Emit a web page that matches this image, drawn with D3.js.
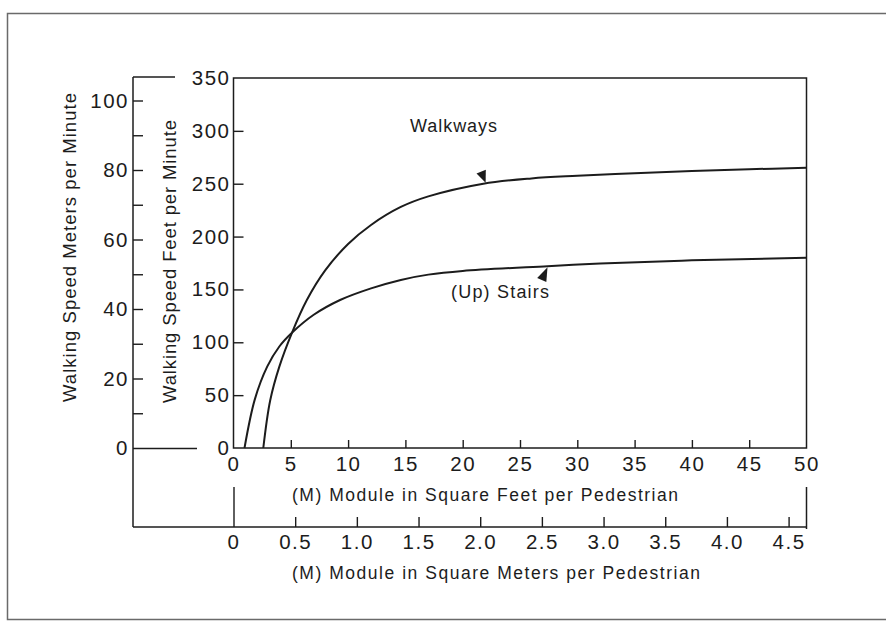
<!DOCTYPE html>
<html>
<head>
<meta charset="utf-8">
<script src="https://cdn.jsdelivr.net/npm/d3@7/dist/d3.min.js"></script>
<style>
  html, body { margin: 0; padding: 0; background: #fff; }
  svg { display: block; }
  text { font-family: "Liberation Sans", Arial, Helvetica, sans-serif; fill: #1c1c1c; }
</style>
</head>
<body>
<svg id="chart" width="886" height="621"></svg>
<script>
// ---------- data ----------
const walkwaysM = [2.6, 3.2, 4.0, 5.1, 6.4, 8, 10, 12, 14.6, 17, 21.8, 26, 30, 35, 40, 45, 50];
const walkwaysS = [0, 45, 77, 109, 140, 168, 193, 211, 228, 238, 250, 255, 257.5, 260, 262, 263.7, 265];
const stairsM = [0.96, 1.86, 2.94, 4.0, 5.1, 7, 9.3, 12, 14.6, 17, 20, 27.4, 32, 40, 50];
const stairsS = [0, 46, 77, 96, 109, 126, 140, 151, 159, 164, 167.5, 172, 174.5, 177.5, 180];

const ftXTicks = [0, 5, 10, 15, 20, 25, 30, 35, 40, 45, 50];
const mXTicks = [0, 0.5, 1.0, 1.5, 2.0, 2.5, 3.0, 3.5, 4.0, 4.5];
const mXLabels = ["0", "0.5", "1.0", "1.5", "2.0", "2.5", "3.0", "3.5", "4.0", "4.5"];
const ftYTicks = [0, 50, 100, 150, 200, 250, 300, 350];
const mYTicks = [0, 10, 20, 30, 40, 50, 60, 70, 80, 90, 100];
const mYLabeled = [0, 20, 40, 60, 80, 100];

const seriesNames = ["Walkways", "(Up) Stairs"];
const walkArrow = [22.0, 250];   // [module, speed] where the arrow touches
const stairArrow = [27.4, 172];

const SQFT_PER_SQM = 10.7639;

// ---------- setup ----------
const svg = d3.select("#chart");
const ink = "#1c1c1c";

const xFt = d3.scaleLinear().domain([0, 50]).range([233.5, 806.5]);
const xM = d3.scaleLinear().domain([0, 50 / SQFT_PER_SQM]).range([233.5, 806.5]);
const yFt = d3.scaleLinear().domain([0, 350]).range([448, 78]);
const yM = d3.scaleLinear().domain([0, 100]).range([448, 100.5]);

const mAxisX = 133;
const mAxisBottomY = 527;

// outer border (scan frame)
svg.append("path")
  .attr("d", "M886,13.5 L7.5,13.5 L7.5,619.5 L886,619.5")
  .attr("fill", "none").attr("stroke", "#6a6a6a").attr("stroke-width", 1.5);

// plot frame
svg.append("rect")
  .attr("x", xFt(0)).attr("y", yFt(350))
  .attr("width", xFt(50) - xFt(0)).attr("height", yFt(0) - yFt(350))
  .attr("fill", "none").attr("stroke", ink).attr("stroke-width", 1.5);

function styleAxis(g) {
  g.select(".domain").remove();
  g.selectAll(".tick line").attr("stroke", ink).attr("stroke-width", 1.4);
  g.selectAll(".tick text")
    .attr("fill", ink)
    .style("font-family", "'Liberation Sans', Arial, sans-serif")
    .style("font-size", "20.5px")
    .style("letter-spacing", "1.5px");
}

// ---- left feet axis ----
const gFtY = svg.append("g")
  .attr("transform", `translate(${xFt(0)},0)`)
  .call(d3.axisLeft(yFt).tickValues(ftYTicks).tickSize(-10).tickPadding(3).tickFormat(d3.format("d")));
styleAxis(gFtY);
gFtY.selectAll(".tick").filter(d => d === 0 || d === 350).select("line").remove();

// ---- left meters axis ----
const gMY = svg.append("g")
  .attr("transform", `translate(${mAxisX},0)`)
  .call(d3.axisLeft(yM).tickValues(mYTicks).tickSize(-10).tickPadding(4)
    .tickFormat(d => mYLabeled.includes(d) ? String(d) : ""));
styleAxis(gMY);
gMY.selectAll(".tick").filter(d => d === 0).select("line").attr("x2", 64);
// vertical spine of meters axis (continues down to the lower module axis)
svg.append("line")
  .attr("x1", mAxisX).attr("x2", mAxisX)
  .attr("y1", 77).attr("y2", mAxisBottomY)
  .attr("stroke", ink).attr("stroke-width", 1.5);
svg.append("line")
  .attr("x1", mAxisX).attr("x2", mAxisX + 42)
  .attr("y1", 77).attr("y2", 77)
  .attr("stroke", ink).attr("stroke-width", 1.5);

// ---- bottom feet axis ----
const gFtX = svg.append("g")
  .attr("transform", `translate(0,${yFt(0)})`)
  .call(d3.axisBottom(xFt).tickValues(ftXTicks).tickSize(-8).tickPadding(8).tickFormat(d3.format("d")));
styleAxis(gFtX);
gFtX.selectAll(".tick").filter(d => d === 0 || d === 50).select("line").remove();

// ---- bottom meters axis ----
const gMX = svg.append("g")
  .attr("transform", `translate(0,${mAxisBottomY})`)
  .call(d3.axisBottom(xM).tickValues(mXTicks).tickSize(-10).tickPadding(7)
    .tickFormat((d, i) => mXLabels[i]));
styleAxis(gMX);
gMX.selectAll(".tick").filter(d => d === 0).select("line").attr("y2", -40);
svg.append("line")
  .attr("x1", mAxisX).attr("x2", xFt(50))
  .attr("y1", mAxisBottomY).attr("y2", mAxisBottomY)
  .attr("stroke", ink).attr("stroke-width", 1.5);
svg.append("line")
  .attr("x1", xFt(50)).attr("x2", xFt(50))
  .attr("y1", mAxisBottomY - 40).attr("y2", mAxisBottomY + 2)
  .attr("stroke", ink).attr("stroke-width", 1.5);

// ---------- curves ----------
const line = d3.line()
  .x(d => xFt(d[0]))
  .y(d => yFt(d[1]))
  .curve(d3.curveCatmullRom.alpha(0.5));

const walkData = walkwaysM.map((m, i) => [m, walkwaysS[i]]);
const stairData = stairsM.map((m, i) => [m, stairsS[i]]);

svg.append("path").datum(walkData)
  .attr("d", line).attr("fill", "none").attr("stroke", ink).attr("stroke-width", 2);
svg.append("path").datum(stairData)
  .attr("d", line).attr("fill", "none").attr("stroke", ink).attr("stroke-width", 2);

// arrowheads pointing at curves
function arrowHead(tip, dir, len, half) {
  const n = Math.hypot(dir[0], dir[1]);
  const ux = dir[0] / n, uy = dir[1] / n;
  const bx = tip[0] - ux * len, by = tip[1] - uy * len;
  const px = -uy, py = ux;
  return `M${tip[0]},${tip[1]} L${bx + px * half},${by + py * half} L${bx - px * half},${by - py * half} Z`;
}
svg.append("path")
  .attr("d", arrowHead([xFt(walkArrow[0]), yFt(walkArrow[1]) - 1], [0.4, 1], 12, 5))
  .attr("fill", ink);
svg.append("path")
  .attr("d", arrowHead([xFt(stairArrow[0]), yFt(stairArrow[1]) + 1], [0.45, -1], 14, 5))
  .attr("fill", ink);

// ---------- text labels ----------
function label(txt, x, y, size, len, rotate) {
  const t = svg.append("text")
    .attr("font-size", size)
    .attr("textLength", len)
    .attr("lengthAdjust", "spacing")
    .text(txt);
  if (rotate) {
    t.attr("text-anchor", "middle")
      .attr("transform", `translate(${x},${y}) rotate(-90)`);
  } else {
    t.attr("x", x).attr("y", y);
  }
  return t;
}

label(seriesNames[0], 410, 132, 18, 87);
label(seriesNames[1], 451, 298, 18, 98);

label("(M) Module in Square Feet per Pedestrian", 292, 501, 17.5, 386);
label("(M) Module in Square Meters per Pedestrian", 292, 579, 17.5, 408);

label("Walking Speed Meters per Minute", 76, 247.5, 18.5, 309, true);
label("Walking Speed Feet per Minute", 176, 261.5, 18.5, 283, true);
</script>
</body>
</html>
